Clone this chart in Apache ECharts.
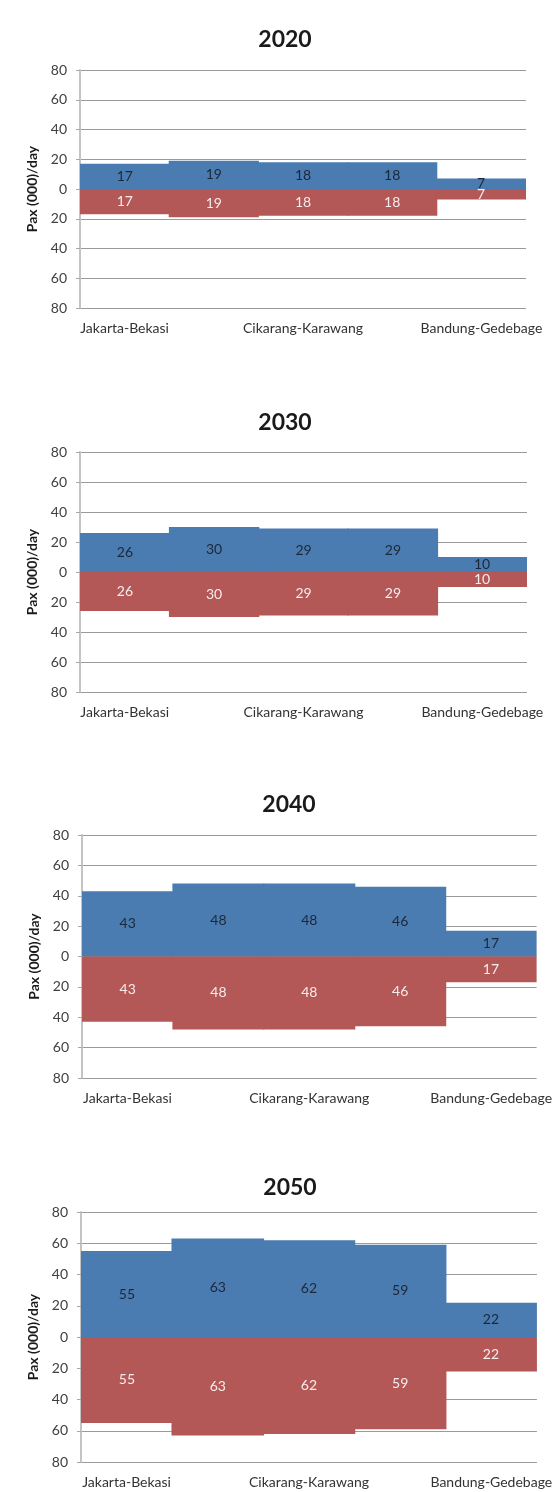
<!DOCTYPE html>
<html>
<head>
<meta charset="utf-8">
<script src="https://cdn.jsdelivr.net/npm/echarts@6/dist/echarts.min.js"></script>
<style>
  html, body { margin: 0; padding: 0; background: #ffffff; }
  #chart { width: 555px; height: 1492px; }
</style>
</head>
<body>
<div id="chart"></div>
<script>
// Passenger flow per section (thousand pax/day), both directions
const years = ['2020', '2030', '2040', '2050'];
const categories = ['Jakarta-Bekasi', '', 'Cikarang-Karawang', '', 'Bandung-Gedebage'];
const pax2020 = [17, 19, 18, 18, 7];
const pax2030 = [26, 30, 29, 29, 10];
const pax2040 = [43, 48, 48, 46, 17];
const pax2050 = [55, 63, 62, 59, 22];
const paxByYear = [pax2020, pax2030, pax2040, pax2050];
const yMin = -80, yMax = 80, yStep = 20;
const yAxisTitle = 'Pax (000)/day';

// Panel geometry (px)
const CHART_W = 555;
const panels = [
  { titleX: 280, titleY: 35,   left: 80, right: 29, top: 70,   height: 238 },
  { titleX: 280, titleY: 418,  left: 80, right: 28, top: 452,  height: 240 },
  { titleX: 284, titleY: 800,  left: 82, right: 18, top: 835,  height: 243 },
  { titleX: 285, titleY: 1183, left: 81, right: 16, top: 1212, height: 250 }
];
const FONT = 'Lato, "Open Sans", sans-serif';
const BLUE = '#4a7bb1';
const RED = '#b35856';

const title = [], grid = [], xAxis = [], yAxis = [], series = [];
panels.forEach((p, i) => {
  // bars fill their whole category slot; a hair of overlap hides seams
  const slot = (CHART_W - p.left - p.right) / categories.length;
  const barW = slot + 1;
  title.push({
    text: years[i], left: p.titleX, top: p.titleY,
    textAlign: 'center', textVerticalAlign: 'middle',
    textStyle: { fontFamily: FONT, fontSize: 23, fontWeight: 'bold', color: '#1a1a1a' }
  });
  grid.push({ left: p.left, right: p.right, top: p.top, height: p.height, containLabel: false });
  xAxis.push({
    gridIndex: i, type: 'category', data: categories,
    axisLine: { show: false }, axisTick: { show: false },
    axisLabel: { interval: 0, margin: 13, fontFamily: FONT, fontSize: 14, color: '#333' },
    splitLine: { show: false }
  });
  yAxis.push({
    gridIndex: i, type: 'value', min: yMin, max: yMax, interval: yStep,
    name: yAxisTitle, nameLocation: 'middle', nameRotate: 90, nameGap: 25,
    nameTextStyle: { fontFamily: FONT, fontSize: 14, fontWeight: 'bold', color: '#1a1a1a' },
    axisLine: { show: true, lineStyle: { color: '#c4c4c4', width: 2 } },
    axisTick: { show: true, length: 4, lineStyle: { color: '#a8a8a8' } },
    axisLabel: { margin: 13, fontFamily: FONT, fontSize: 14, color: '#404040',
                 formatter: v => String(Math.abs(v)) },
    splitLine: { show: true, lineStyle: { color: '#9a9a9a', width: 1 } }
  });
  const vals = paxByYear[i];
  series.push({
    type: 'bar', xAxisIndex: i, yAxisIndex: i,
    data: vals, barWidth: barW, barGap: '-100%',
    itemStyle: { color: BLUE },
    label: { show: true, position: 'inside', fontFamily: FONT, fontSize: 14, color: '#1c2838' },
    emphasis: { disabled: true }, animation: false, z: 3
  });
  series.push({
    type: 'bar', xAxisIndex: i, yAxisIndex: i,
    data: vals.map(v => -v), barWidth: barW, barGap: '-100%',
    itemStyle: { color: RED },
    label: { show: true, position: 'inside', fontFamily: FONT, fontSize: 14, color: '#f6ecec',
             formatter: d => String(Math.abs(d.value)) },
    emphasis: { disabled: true }, animation: false, z: 3
  });
});

const chart = echarts.init(document.getElementById('chart'), null, { renderer: 'canvas' });
chart.setOption({
  backgroundColor: '#ffffff',
  animation: false,
  title, grid, xAxis, yAxis, series
});
</script>
</body>
</html>
